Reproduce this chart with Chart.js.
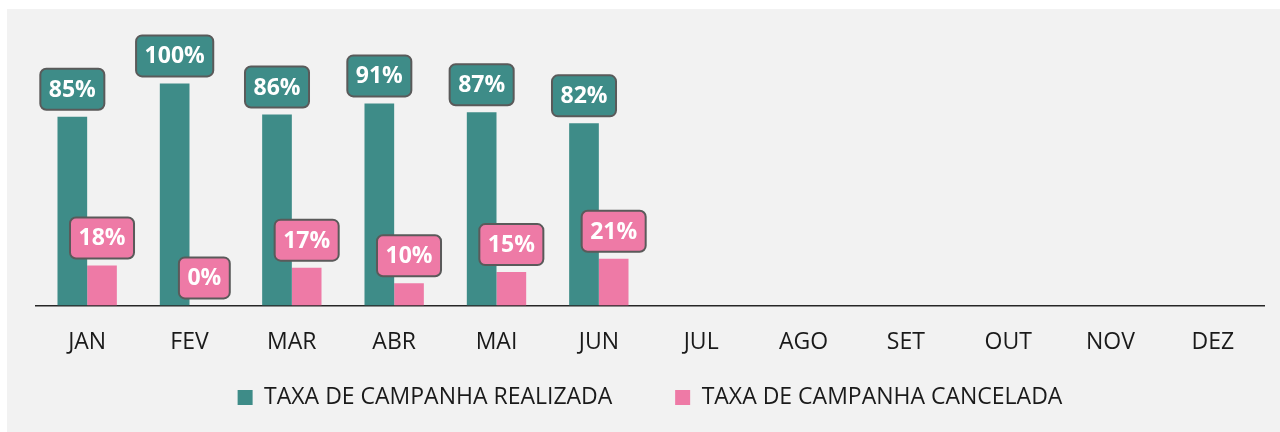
<!DOCTYPE html>
<html>
<head>
<meta charset="utf-8">
<script src="https://cdn.jsdelivr.net/npm/chart.js@4/dist/chart.umd.min.js"></script>
<style>
  html, body { margin: 0; padding: 0; background: #ffffff; }
  #painel { position: absolute; left: 7px; top: 9px; width: 1273px; height: 423px; background: #f2f2f2; }
  #wrap { position: absolute; left: 0; top: 0; width: 1280px; height: 432px; }
</style>
</head>
<body>
<div id="painel"></div>
<div id="wrap"><canvas id="grafico" width="1280" height="432"></canvas></div>
<script>
const meses = ['JAN', 'FEV', 'MAR', 'ABR', 'MAI', 'JUN', 'JUL', 'AGO', 'SET', 'OUT', 'NOV', 'DEZ'];
const realizada = [85, 100, 86, 91, 87, 82, null, null, null, null, null, null];
const cancelada = [18, 0, 17, 10, 15, 21, null, null, null, null, null, null];

const corRealizada = '#3e8c88';
const corCancelada = '#ee7aa6';
const fonte = '"Open Sans", Carlito, Lato, sans-serif';

// caixinhas arredondadas com o valor acima de cada barra
const rotulos = {
    id: 'rotulos',
    afterDatasetsDraw(chart) {
        const ctx = chart.ctx;
        ctx.save();
        ctx.font = 'bold 23px ' + fonte;
        ctx.textAlign = 'center';
        ctx.textBaseline = 'middle';
        chart.data.datasets.forEach((ds, i) => {
            chart.getDatasetMeta(i).data.forEach((bar, j) => {
                const v = ds.data[j];
                if (v === null || v === undefined) return;
                const txt = v + '%';
                const w = ctx.measureText(txt).width + 17;
                const h = 41;
                const x = bar.x - w / 2;
                const y = bar.y - 7 - h;
                ctx.beginPath();
                ctx.roundRect(x, y, w, h, 6);
                ctx.fillStyle = ds.backgroundColor;
                ctx.fill();
                ctx.lineWidth = 2;
                ctx.strokeStyle = '#5a5a5a';
                ctx.stroke();
                ctx.fillStyle = '#ffffff';
                ctx.fillText(txt, bar.x, y + h / 2 + 1);
            });
        });
        ctx.restore();
    }
};

new Chart(document.getElementById('grafico'), {
    type: 'bar',
    data: {
        labels: meses,
        datasets: [
            { label: 'TAXA DE CAMPANHA REALIZADA', data: realizada, backgroundColor: corRealizada },
            { label: 'TAXA DE CAMPANHA CANCELADA', data: cancelada, backgroundColor: corCancelada }
        ]
    },
    options: {
        responsive: false,
        animation: false,
        devicePixelRatio: 1,
        layout: { padding: { left: 36, right: 16, top: 39, bottom: 13 } },
        datasets: { bar: { barPercentage: 1, categoryPercentage: 0.58 } },
        scales: {
            x: {
                grid: { display: false },
                border: { display: true, color: '#262626', width: 1.5 },
                ticks: { color: '#1a1a1a', font: { family: fonte, size: 23 }, padding: 15 }
            },
            y: { display: false, min: 0, max: 120 }
        },
        plugins: {
            legend: {
                position: 'bottom',
                labels: {
                    color: '#1a1a1a',
                    font: { family: fonte, size: 23 },
                    boxWidth: 15,
                    boxHeight: 15,
                    padding: 15,
                    // espaço extra entre os dois itens da legenda
                    generateLabels(chart) {
                        const itens = Chart.defaults.plugins.legend.labels.generateLabels(chart);
                        itens[0].text += '\u00a0\u00a0\u00a0\u00a0\u00a0\u00a0\u00a0\u00a0';
                        return itens;
                    }
                }
            },
            tooltip: { enabled: false }
        }
    },
    plugins: [rotulos]
});
</script>
</body>
</html>
